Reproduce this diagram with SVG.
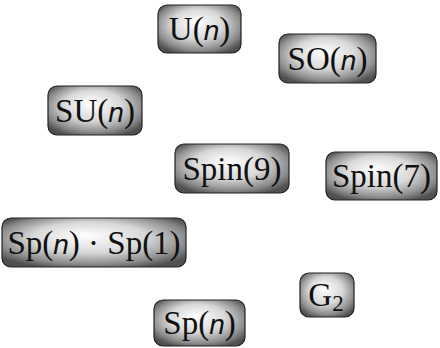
<svg xmlns="http://www.w3.org/2000/svg" width="440" height="348" viewBox="0 0 440 348">
<defs>
<radialGradient id="ball" cx="0.5" cy="0.45" r="0.62" fx="0.45" fy="0.35">
<stop offset="0" stop-color="#ffffff"/>
<stop offset="0.5" stop-color="#d8d8d8"/>
<stop offset="0.82" stop-color="#8c8c8c"/>
<stop offset="1" stop-color="#505050"/>
</radialGradient>
</defs>
<style>
.box{fill:url(#ball);stroke:#222;stroke-width:1.2}
.lbl{font-family:"Liberation Serif","Times New Roman",serif;font-size:33px;fill:#111;text-anchor:middle}
.it{font-family:"Liberation Sans",Arial,sans-serif;font-style:italic;font-size:28px}
.sub{font-size:23px}
</style>
<rect width="440" height="348" fill="#fff"/>
<g id="connectors"></g>
<g id="U"><rect class="box" x="158" y="5" width="83" height="48" rx="9"/><text class="lbl" x="199.5" y="40">U(<tspan class="it">n</tspan>)</text></g>
<g id="SO"><rect class="box" x="279" y="34" width="97" height="49" rx="9"/><text class="lbl" x="327.5" y="69.5">SO(<tspan class="it">n</tspan>)</text></g>
<g id="SU"><rect class="box" x="48" y="86" width="94" height="49" rx="9"/><text class="lbl" x="95" y="121.5">SU(<tspan class="it">n</tspan>)</text></g>
<g id="Spin9"><rect class="box" x="175" y="144" width="114" height="49" rx="9"/><text class="lbl" x="232" y="179.5">Spin(9)</text></g>
<g id="Spin7"><rect class="box" x="326" y="152" width="111" height="48" rx="9"/><text class="lbl" x="381.5" y="187">Spin(7)</text></g>
<g id="SpSp"><rect class="box" x="2" y="218" width="184" height="49" rx="9"/><text class="lbl" x="94" y="253.5">Sp(<tspan class="it">n</tspan>) · Sp(1)</text></g>
<g id="G2"><rect class="box" x="300" y="273" width="54" height="44" rx="9"/><text class="lbl" x="326" y="306">G<tspan class="sub" dy="5">2</tspan></text></g>
<g id="Sp"><rect class="box" x="154" y="300" width="91" height="46" rx="9"/><text class="lbl" x="199.5" y="334">Sp(<tspan class="it">n</tspan>)</text></g>
</svg>
